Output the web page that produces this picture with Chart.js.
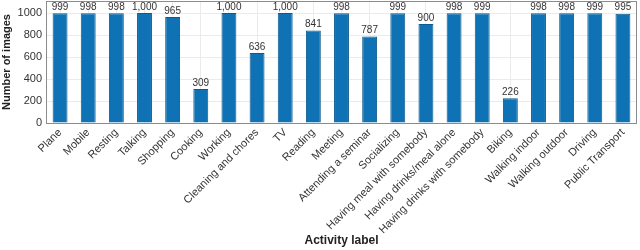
<!DOCTYPE html>
<html>
<head>
<meta charset="utf-8">
<script src="https://cdn.jsdelivr.net/npm/chart.js@4/dist/chart.umd.min.js"></script>
<style>
html,body{margin:0;padding:0;background:#fff;}
#wrap{width:640px;height:250px;position:relative;}
</style>
</head>
<body>
<div id="wrap"><canvas id="c" width="640" height="250"></canvas></div>
<script>
const categories = ["Plane","Mobile","Resting","Talking","Shopping","Cooking","Working","Cleaning and chores","TV","Reading","Meeting","Attending a seminar","Socializing","Having meal with somebody","Having drinks/meal alone","Having drinks with somebody","Biking","Walking indoor","Walking outdoor","Driving","Public Transport"];
const imageCounts = [999,998,998,1000,965,309,1000,636,1000,841,998,787,999,900,998,999,226,998,998,999,995];
const yTicks = [0,200,400,600,800,1000];
const xTitle = "Activity label";
const yTitle = "Number of images";

const FONT = "'Liberation Sans', Arial, sans-serif";

const labelPlugin = {
  id: 'barLabels',
  afterDatasetsDraw(chart) {
    const ctx = chart.ctx;
    const meta = chart.getDatasetMeta(0);
    ctx.save();
    ctx.font = "10px " + FONT;
    ctx.fillStyle = "#333";
    ctx.textAlign = "center";
    ctx.textBaseline = "bottom";
    meta.data.forEach((bar, i) => {
      ctx.fillText(imageCounts[i].toLocaleString('en-US'), bar.x, bar.y - 1);
    });
    ctx.restore();
  }
};
const framePlugin = {
  id: 'frame',
  afterDraw(chart) {
    const a = chart.chartArea, ctx = chart.ctx;
    ctx.save();
    ctx.strokeStyle = "#8c8c8c";
    ctx.lineWidth = 1;
    ctx.strokeRect(Math.round(a.left) + 0.5, Math.round(a.top) + 0.5, Math.round(a.right - a.left) - 1, Math.round(a.bottom - a.top));
    ctx.restore();
  }
};

new Chart(document.getElementById('c'), {
  type: 'bar',
  data: {
    labels: categories,
    datasets: [{
      data: imageCounts,
      backgroundColor: '#0f72b4',
      borderColor: '#0b5b8e',
      borderWidth: 1,
      barPercentage: 0.53,
      categoryPercentage: 1.0
    }]
  },
  options: {
    responsive: false,
    animation: false,
    devicePixelRatio: 1,
    layout: { padding: { top: 1, right: 3, left: 0, bottom: 0 } },
    plugins: { legend: { display: false }, tooltip: { enabled: false } },
    scales: {
      x: {
        offset: true,
        grid: { offset: false, color: '#ebebeb', drawTicks: false },
        border: { display: false },
        ticks: {
          autoSkip: false, minRotation: 45, maxRotation: 45,
          color: '#333', font: { family: FONT, size: 11 }, padding: 3
        },
        title: { display: true, text: xTitle, color: '#222', font: { family: FONT, size: 12, weight: 'bold' }, padding: { top: 0, bottom: 2 } },
        afterFit(scale) { scale.height = 127; scale.paddingLeft = 0; scale.paddingRight = 0; }
      },
      y: {
        min: 0, max: 1110,
        grid: { color: '#ebebeb', drawTicks: false },
        border: { display: false },
        afterBuildTicks(scale) { scale.ticks = yTicks.map(v => ({ value: v })); },
        ticks: { color: '#333', font: { family: FONT, size: 11 }, padding: 4, callback: (v) => String(v) },
        title: { display: true, text: yTitle, color: '#222', font: { family: FONT, size: 11, weight: 'bold' }, padding: { top: 0, bottom: 2 } },
        afterFit(scale) { scale.width = 46; scale.paddingTop = 0; scale.paddingBottom = 0; }
      }
    }
  },
  plugins: [labelPlugin, framePlugin]
});
</script>
</body>
</html>
